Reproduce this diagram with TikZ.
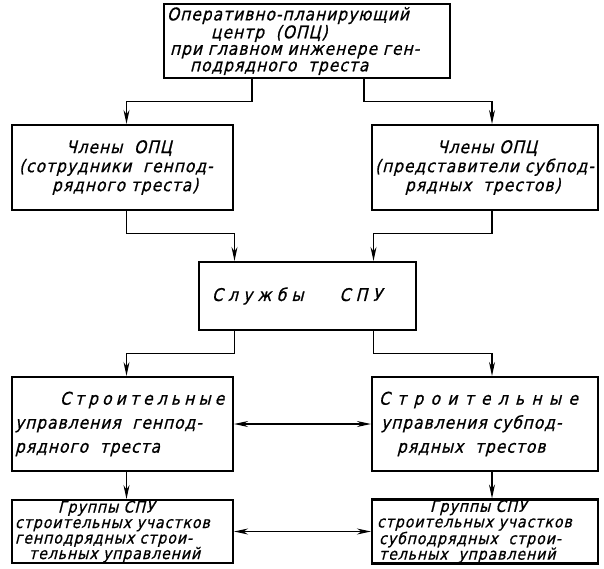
\documentclass[tikz,border=0pt]{standalone}
\usepackage{fontspec}
\newfontfamily\gost[LetterSpace=6, FakeSlant=0.25, FakeBold=0.8, FakeStretch=0.88]{DejaVu Sans}
\usetikzlibrary{arrows.meta}

\tikzset{
  box/.style={draw, line width=2.2pt, inner xsep=3pt, inner ysep=2pt, align=left,
    font=\gost\fontsize{17.5}{17}\selectfont},
  arr/.style={line width=1.1pt, -{Stealth[length=14pt,width=6pt]}},
  biarr/.style={line width=1.1pt, {Stealth[length=14pt,width=6pt]}-{Stealth[length=14pt,width=6pt]}}
}

\begin{document}
\begin{tikzpicture}[x=1pt, y=-1pt]

\useasboundingbox (0,0) rectangle (604,568);

% top box
\node[box, text width=280pt, minimum height=74pt, font=\gost\fontsize{17.5}{16.5}\selectfont] (opc) at (307,41)
  {Оперативно-планирующий\\
   \hspace*{44pt}центр\ \ (ОПЦ)\\
   \hspace*{3pt}при главном инженере ген-\\
   \hspace*{23pt}подрядного\ \ треста};

% members
\node[box, text width=215pt, minimum height=85pt, font=\gost\fontsize{17.5}{19}\selectfont] (chlL) at (122.5,167.5)
  {\hspace*{51pt}Члены\ \ ОПЦ\\
   \hspace*{4pt}\mbox{(сотрудники\ \ генпод-}\\
   \hspace*{37pt}рядного треста)};
\node[box, text width=220pt, minimum height=85pt, font=\gost\fontsize{17.5}{19}\selectfont] (chlR) at (485,167.5)
  {\hspace*{62pt}Члены\ ОПЦ\\
   \mbox{(представители субпод-}\\
   \hspace*{30pt}рядных\ \ трестов)};

% SPU services
\node[box, text width=211pt, minimum height=68pt] (spu) at (307.5,296)
  {\hspace*{10pt}{\addfontfeature{LetterSpace=30}Службы}\hspace{36pt}{\addfontfeature{LetterSpace=30}СПУ}};

% construction departments
\node[box, text width=215pt, minimum height=94pt, font=\gost\fontsize{17.5}{24}\selectfont] (suL) at (122.5,424)
  {\hspace*{45pt}{\addfontfeature{LetterSpace=24}Строительные}\\
   \mbox{управления\ \ генпод-}\\
   рядного\ \ треста};
\node[box, text width=220pt, minimum height=94pt, font=\gost\fontsize{17.5}{24}\selectfont] (suR) at (485,424)
  {\hspace*{4pt}{\addfontfeature{LetterSpace=42}Строительные}\\
   \hspace*{6pt}\mbox{управления субпод-}\\
   \hspace*{22pt}рядных\ \ трестов};

% SPU groups
\node[box, text width=215pt, minimum height=62pt, inner ysep=0.5pt, font=\gost\fontsize{16}{15.5}\selectfont] (grL) at (122.5,531.5)
  {\hspace*{43pt}Группы СПУ\\
   \mbox{строительных участков}\\
   \mbox{генподрядных строи-}\\
   \hspace*{14pt}\mbox{тельных управлений}};
\node[box, text width=220pt, minimum height=62pt, inner ysep=0.5pt, font=\gost\fontsize{16}{15.5}\selectfont] (grR) at (485,531.5)
  {\hspace*{55pt}Группы СПУ\\
   \hspace*{2pt}\mbox{строительных участков}\\
   \hspace*{4pt}\mbox{субподрядных\ \ строи-}\\
   \hspace*{4pt}\mbox{тельных\ \ управлений}};

\draw[arr] ([xshift=-55pt]opc.south) -- ++(0,22) -| ([xshift=4pt]chlL.north);
\draw[arr] ([xshift=57pt]opc.south) -- ++(0,22) -| ([xshift=7pt]chlR.north);

\draw[arr] ([xshift=4pt]chlL.south) -- ++(0,22) -| ([xshift=-73pt]spu.north);
\draw[arr] ([xshift=7pt]chlR.south) -- ++(0,22) -| ([xshift=66pt]spu.north);

\draw[arr] ([xshift=-73pt]spu.south) -- ++(0,22) -| ([xshift=4pt]suL.north);
\draw[arr] ([xshift=66pt]spu.south) -- ++(0,22) -| ([xshift=7pt]suR.north);

\draw[arr] ([xshift=4pt]suL.south) -- ([xshift=4pt]grL.north);
\draw[arr] ([xshift=7pt]suR.south) -- ([xshift=7pt]grR.north);

\draw[biarr] (suL.east) -- (suL.east -| suR.west);
\draw[biarr] (grL.east) -- (grL.east -| grR.west);

\end{tikzpicture}
\end{document}
